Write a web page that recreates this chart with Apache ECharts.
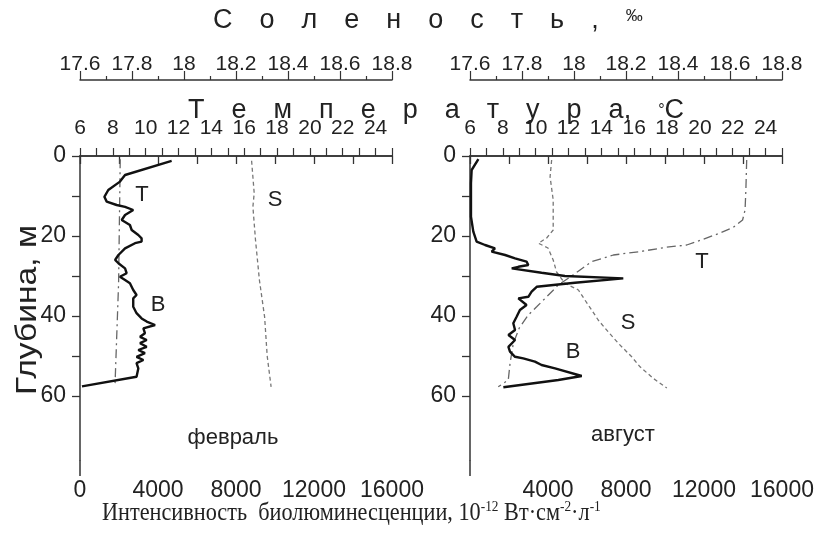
<!DOCTYPE html>
<html>
<head>
<meta charset="utf-8">
<script src="https://cdn.jsdelivr.net/npm/echarts@6/dist/echarts.min.js"></script>
<style>
  html, body { margin: 0; padding: 0; background: #fff; }
  #chart { width: 817px; height: 533px; }
</style>
</head>
<body>
<div id="chart"></div>
<script>
// февраль: биолюминесценция (B), температура (T), соленость (S) по глубине
var febDepthB = [1.2, 4.75, 6.4, 8.5, 10.2, 11.4, 12.25, 12.7, 13.5, 14.75, 16, 17.25, 18.5, 19.75, 20.6, 21.4, 21.8, 23.1, 24.75, 26, 26.8, 28.1, 29.3, 30.2, 31, 31.8, 33.5, 34.75, 35.6, 37.7, 39.3, 40.6, 41.4, 42.25, 43.1, 44.3, 45.2, 46, 46.8, 47.7, 48.5, 49.3, 50.2, 51, 51.8, 53.1, 55.2, 57.6];
var febB = [4700, 2310, 2050, 1450, 1250, 1370, 1880, 2310, 2730, 2310, 2140, 2560, 2650, 2990, 3160, 3160, 2820, 2310, 1970, 1800, 1970, 2310, 2390, 2050, 2310, 2560, 2730, 2900, 2730, 2730, 2900, 3160, 3420, 3850, 3250, 3330, 3080, 3420, 3080, 3420, 2990, 3330, 2900, 3250, 2900, 2990, 2900, 100];
var febDepthT = [0.8, 31.8, 57.5];
var febT = [8.45, 8.35, 8.13];
var febDepthS = [1.2, 9.3, 12.7, 21, 31, 40.2, 50, 57.7];
var febS = [18.26, 18.27, 18.265, 18.275, 18.29, 18.31, 18.32, 18.335];

// август
var augDepthB = [0.8, 3.5, 6.8, 15.2, 18.9, 21.4, 22.25, 23.1, 23.9, 24.75, 25.6, 26.4, 27.25, 27.7, 28.1, 29.2, 30, 30.6, 31.7, 32.7, 33.9, 35.2, 35.6, 37.25, 38.5, 40.2, 41.8, 43.5, 44.75, 46, 47.7, 48.9, 50.2, 50.6, 51.4, 52.25, 53.1, 55, 56, 57.8];
var augB = [430, 85, 50, 50, 170, 340, 770, 1280, 1110, 1800, 2310, 2900, 2990, 2480, 2140, 3670, 4870, 7860, 5380, 3420, 3160, 2990, 2480, 2900, 2560, 2390, 2220, 2310, 1970, 2310, 1970, 2050, 2310, 2730, 3330, 3670, 4360, 5730, 4530, 1710];
var augDepthT = [1, 8.5, 13.5, 16, 17.8, 19.3, 20.8, 22.25, 22.8, 23.9, 24.75, 26.4, 28.5, 30, 32.25, 35.2, 37.7, 39.75, 43, 46.8, 51.8, 56, 57.7];
var augT = [22.85, 22.8, 22.75, 22.6, 22.04, 21.2, 20.2, 19.2, 17.98, 16.35, 14.73, 13.41, 12.7, 12.19, 11.38, 10.67, 10.06, 9.55, 9.0, 8.64, 8.44, 8.33, 7.72];
var augDepthS = [1, 5.2, 11, 18.5, 20.5, 21.8, 23, 26, 29, 31.8, 33.5, 36, 38.5, 41, 44, 46.8, 50.2, 52.7, 55.6, 58];
var augS = [17.914, 17.908, 17.92, 17.92, 17.895, 17.863, 17.90, 17.92, 17.933, 17.965, 18.017, 18.042, 18.068, 18.093, 18.132, 18.17, 18.222, 18.254, 18.305, 18.357];

// оси
var depthTicks = [0, 10, 20, 30, 40, 50, 60];
var depthLabels = [0, 20, 40, 60];
var febIntLabels = [0, 4000, 8000, 12000, 16000];
var augIntLabels = [4000, 8000, 12000, 16000];
var tempLabels = [6, 8, 10, 12, 14, 16, 18, 20, 22, 24];

var SANS = 'Liberation Sans, Arial, sans-serif';
var SERIF = 'Liberation Serif, Times New Roman, serif';
var AX = '#333';

var pairs = function(xs, ys){
    return xs.map(function(x, i){ return [x, ys[i]]; });
};

var intAxis = function(grid, labels){
    return {
        gridIndex: grid, type: 'value', position: 'bottom',
        min: 0, max: 16000, interval: 2000,
        axisLine: {lineStyle: {color: AX, width: 1.5}},
        axisTick: {length: 8, lineStyle: {color: AX, width: 1.3}},
        axisLabel: {
            margin: 19, color: '#222', fontFamily: SANS, fontSize: 23,
            formatter: function(v){ return labels.indexOf(v) >= 0 ? String(v) : ''; }
        },
        splitLine: {show: false}
    };
};

// длинная засечка у нуля (ось глубин уходит ниже оси интенсивности)
var zeroTickAxis = function(grid){
    return {
        gridIndex: grid, type: 'value', position: 'bottom',
        min: 0, max: 16000, interval: 2000,
        axisLine: {show: false},
        axisTick: {length: 16, customValues: [0], lineStyle: {color: AX, width: 1.5}},
        axisLabel: {show: false},
        splitLine: {show: false}
    };
};

var tempAxis = function(grid){
    return {
        gridIndex: grid, type: 'value', position: 'top', offset: 0,
        min: 6, max: 25, interval: 1,
        axisLine: {lineStyle: {color: AX, width: 1.5}},
        axisTick: {length: 8, lineStyle: {color: AX, width: 1.2}},
        axisLabel: {
            margin: 17, color: '#222', fontFamily: SANS, fontSize: 21,
            formatter: function(v){ return tempLabels.indexOf(v) >= 0 ? String(v) : ''; }
        },
        splitLine: {show: false}
    };
};

var salAxis = function(grid){
    return {
        gridIndex: grid, type: 'value', position: 'top', offset: 76,
        min: 17.6, max: 18.8, interval: 0.2,
        axisLine: {lineStyle: {color: AX, width: 1.5}},
        axisTick: {length: 9, lineStyle: {color: AX, width: 1.2}},
        minorTick: {show: true, splitNumber: 2, length: 4, lineStyle: {color: AX, width: 1.2}},
        axisLabel: {margin: 5, color: '#222', fontFamily: SANS, fontSize: 21, showMinLabel: true, showMaxLabel: true},
        splitLine: {show: false}
    };
};

var depthAxis = function(grid){
    return {
        gridIndex: grid, type: 'value', inverse: true,
        min: 0, max: 76, interval: 10,
        axisLine: {lineStyle: {color: AX, width: 1.5}},
        axisTick: {length: 8, customValues: depthTicks, lineStyle: {color: AX, width: 1.3}},
        axisLabel: {margin: 14, color: '#222', fontFamily: SANS, fontSize: 23, customValues: depthLabels},
        splitLine: {show: false}
    };
};

var lineSeries = function(xi, yi, data, color, width, dash){
    return {
        type: 'line', xAxisIndex: xi, yAxisIndex: yi, data: data,
        showSymbol: false, symbol: 'none', silent: true, animation: false,
        lineStyle: {color: color, width: width, type: dash}
    };
};

var textEl = function(x, y, text, size, opts){
    opts = opts || {};
    var st = {x: 0, y: 0, text: text, fill: '#222',
              font: opts.font || (size + 'px ' + SANS),
              align: opts.align || 'center', verticalAlign: 'middle'};
    if (opts.rich) st.rich = opts.rich;
    return {
        type: 'text', x: x, y: y,
        rotation: opts.rotation || 0,
        scaleX: opts.scaleX || 1,
        style: st
    };
};

var EM = '\u2003';
var salTitle = ['С','о','л','е','н','о','с','т','ь',','].join(EM);
var tempTitle = ['Т','е','м','п','е','р','а','т','у','р','а'].join(EM) + ',' + EM + '{deg|°}C';

var myChart = echarts.init(document.getElementById('chart'), null, {renderer: 'canvas'});

var option = {
    backgroundColor: '#fff',
    animation: false,
    grid: [
        {left: 80, top: 156, width: 312, height: 304},
        {left: 470, top: 156, width: 312, height: 304}
    ],
    xAxis: [
        intAxis(0, febIntLabels), tempAxis(0), salAxis(0),
        intAxis(1, augIntLabels), tempAxis(1), salAxis(1),
        zeroTickAxis(0), zeroTickAxis(1)
    ],
    yAxis: [depthAxis(0), depthAxis(1)],
    series: [
        lineSeries(1, 0, pairs(febT, febDepthT), '#666', 1.3, [9, 4, 2, 4]),
        lineSeries(2, 0, pairs(febS, febDepthS), '#777', 1.3, [4, 3]),
        lineSeries(0, 0, pairs(febB, febDepthB), '#111', 2.4, 'solid'),
        lineSeries(4, 1, pairs(augT, augDepthT), '#666', 1.3, [9, 4, 2, 4]),
        lineSeries(5, 1, pairs(augS, augDepthS), '#777', 1.3, [4, 3]),
        lineSeries(3, 1, pairs(augB, augDepthB), '#111', 2.4, 'solid')
    ],
    graphic: [
        textEl(213, 21, salTitle + EM + '{pm|‰}', 27, {align: 'left', rich: {pm: {fontSize: 17, fontFamily: SANS, fill: '#222', verticalAlign: 'top'}}}),
        textEl(188, 111, tempTitle, 27, {align: 'left', rich: {deg: {fontSize: 16, fontFamily: SANS, fill: '#222'}}}),
        textEl(28, 310, 'Глубина, м', 30, {rotation: Math.PI / 2, scaleX: 1.12}),
        textEl(102, 513, 'Интенсивность  биолюминесценции, 10{sup|-12} Вт·см{sup|-2}·л{sup|-1}', 25,
               {align: 'left', scaleX: 0.89, font: '25px ' + SERIF,
                rich: {sup: {fontSize: 15, fontFamily: SERIF, fill: '#222', verticalAlign: 'top', padding: [0, 0, 12, 0]}}}),
        textEl(233, 438, 'февраль', 22),
        textEl(623, 435, 'август', 22),
        textEl(142, 195, 'T', 22),
        textEl(275, 200, 'S', 22),
        textEl(158, 305, 'B', 22),
        textEl(702, 262, 'T', 22),
        textEl(628, 323, 'S', 22),
        textEl(573, 352, 'B', 22)
    ]
};

myChart.setOption(option);
</script>
</body>
</html>
